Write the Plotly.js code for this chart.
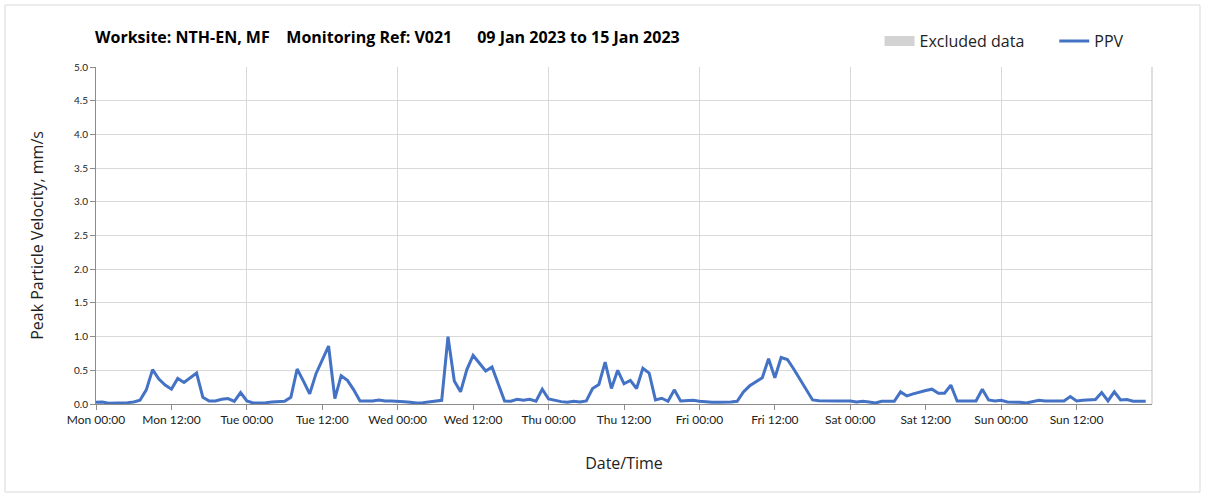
<!DOCTYPE html>
<html>
<head>
<meta charset="utf-8">
<script src="https://cdn.plot.ly/plotly-3.0.1.min.js"></script>
<style>html,body{margin:0;padding:0;background:#fff}#chart{width:1207px;height:499px}</style>
</head>
<body>
<div id="chart"></div>
<script>
// Hourly PPV readings (mm/s), starting Mon 09 Jan 2023 00:00
const startTime = '2023-01-09T00:00:00';
const ppvValues = [
  0.025,0.03,0.01,0.01,0.015,0.02,0.03,0.055,0.21,0.51,0.37,0.28,0.22,0.38,0.32,0.39,0.46,0.10,0.045,0.045,0.07,0.08,0.04,0.17,
  0.045,0.015,0.015,0.02,0.03,0.03,0.04,0.10,0.52,0.34,0.15,0.45,0.65,0.86,0.08,0.42,0.35,0.21,0.045,0.045,0.045,0.06,0.045,0.045,
  0.045,0.035,0.025,0.015,0.02,0.03,0.035,0.055,1.0,0.34,0.18,0.51,0.72,0.60,0.49,0.55,0.30,0.045,0.04,0.07,0.055,0.07,0.04,0.22,
  0.075,0.05,0.035,0.025,0.04,0.03,0.045,0.23,0.29,0.62,0.23,0.50,0.30,0.35,0.23,0.53,0.46,0.06,0.085,0.04,0.21,0.045,0.05,0.055,
  0.04,0.03,0.025,0.025,0.025,0.03,0.04,0.18,0.27,0.33,0.39,0.67,0.39,0.69,0.66,0.52,0.36,0.21,0.06,0.05,0.045,0.045,0.045,0.045,
  0.045,0.03,0.04,0.03,0.015,0.04,0.04,0.04,0.18,0.12,0.15,0.18,0.20,0.22,0.16,0.16,0.28,0.045,0.045,0.045,0.045,0.22,0.06,0.045,
  0.055,0.03,0.03,0.025,0.015,0.03,0.055,0.045,0.045,0.045,0.045,0.11,0.045,0.055,0.065,0.065,0.17,0.045,0.18,0.06,0.065,0.04,0.04,0.04
];
// No excluded periods in this week (placeholder keeps the legend entry)
const excludedTimes = ['2023-01-09 00:00'];
const excludedValues = [null];
const axisRange = ['2023-01-09 00:00', '2023-01-16 00:00'];
const yTickVals = [0,0.5,1,1.5,2,2.5,3,3.5,4,4.5,5];

function fmt(d){
  const p=n=>String(n).padStart(2,'0');
  return d.getFullYear()+'-'+p(d.getMonth()+1)+'-'+p(d.getDate())+' '+p(d.getHours())+':'+p(d.getMinutes());
}
const t0 = new Date(startTime);
const times = ppvValues.map((v,i)=>fmt(new Date(t0.getTime()+i*3600000)));
const xTickVals = times.filter((t,i)=>i%12===0);
const dayGridVals = times.filter((t,i)=>i%24===0).concat([axisRange[1]]);

const FONT = '"Open Sans", Lato, sans-serif';
const TFONT = 'Lato, "Open Sans", sans-serif';

const traces = [
  {type:'scatter', mode:'lines', x:excludedTimes, y:excludedValues,
   name:'Excluded data\u00a0\u00a0\u00a0\u00a0\u00a0\u00a0',
   line:{width:10, color:'#d3d3d3'}, showlegend:true, hoverinfo:'skip'},
  {type:'scatter', mode:'lines', x:times, y:ppvValues, name:'PPV',
   line:{color:'#4472C4', width:3}},
  {type:'scatter', mode:'lines', x:axisRange, y:[null,null], xaxis:'x2',
   showlegend:false, hoverinfo:'skip'}
];

const layout = {
  width:1207, height:499,
  margin:{l:96, r:55, t:67, b:95},
  paper_bgcolor:'#ffffff', plot_bgcolor:'#ffffff',
  font:{family:FONT, color:'#000', size:11},
  title:{text:'Worksite: NTH-EN, MF\u00a0\u00a0\u00a0 Monitoring Ref: V021\u00a0\u00a0\u00a0\u00a0\u00a0 09 Jan 2023 to 15 Jan 2023',
    font:{family:FONT, size:16, color:'#000', weight:'bold'},
    x:95/1207, xanchor:'left', y:1-37/499, yanchor:'middle'},
  showlegend:true,
  legend:{orientation:'h', x:0.742, xanchor:'left', y:1.077, yanchor:'middle',
    font:{family:FONT, size:16, color:'#222'}, bgcolor:'rgba(0,0,0,0)', itemwidth:30, tracegroupgap:0},
  xaxis:{type:'date', range:axisRange, tickmode:'array', tickvals:xTickVals,
    tickformat:'%a %H:%M', showgrid:false, zeroline:false,
    showline:true, linecolor:'#8c8c8c', linewidth:1,
    ticks:'outside', ticklen:5, tickcolor:'#8c8c8c',
    tickfont:{family:TFONT, size:12, color:'#222'},
    title:{text:'Date/Time', font:{family:FONT, size:16, color:'#222'}, standoff:31}},
  xaxis2:{type:'date', range:axisRange, overlaying:'x', tickmode:'array', tickvals:dayGridVals,
    showgrid:true, gridcolor:'#d9d9d9', gridwidth:1, showticklabels:false, ticks:'', zeroline:false, showline:false},
  yaxis:{range:[0,5], tickvals:yTickVals, tickformat:'.1f', showgrid:true, gridcolor:'#d9d9d9', gridwidth:1,
    zeroline:false, showline:true, linecolor:'#8c8c8c', linewidth:1,
    ticks:'outside', ticklen:5, tickcolor:'#8c8c8c',
    tickfont:{family:TFONT, size:10, color:'#222'},
    title:{text:'Peak Particle Velocity, mm/s', font:{family:FONT, size:16, color:'#222'}, standoff:26}},
  shapes:[
    {type:'rect', xref:'paper', yref:'paper', x0:(5-96)/1056, x1:(1200-96)/1056, y0:(404-492)/337, y1:(404-5)/337,
     line:{color:'#d9d9d9', width:1}, fillcolor:'rgba(0,0,0,0)', layer:'below'},
    {type:'line', xref:'paper', yref:'paper', x0:1, x1:1, y0:0, y1:1, line:{color:'#bfbfbf', width:1}}
  ]
};

Plotly.newPlot('chart', traces, layout, {displayModeBar:false, staticPlot:true});
</script>
</body>
</html>
